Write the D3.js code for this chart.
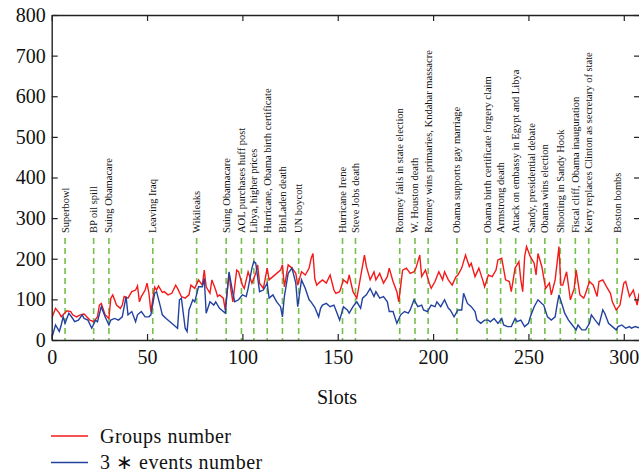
<!DOCTYPE html>
<html>
<head>
<meta charset="utf-8">
<script src="https://cdn.jsdelivr.net/npm/d3@7"></script>
<style>
body{margin:0;background:#fff;}
text{font-family:"Liberation Serif","Times New Roman",serif;fill:#111;}
</style>
</head>
<body>
<div class="chart"></div>
<script>
// data
const redSlots = [0,2,4,5,8,10,11,13,15,17,18,20,22,24,25,26,28,30,31,32,34,36,37,38,40,42,44,45,46,47,49,50,51,52,54,55,56,58,59,61,63,65,66,68,70,72,73,75,77,79,80,81,83,84,86,87,88,90,91,93,94,95,97,98,100,101,103,105,107,108,109,111,113,114,116,118,120,121,122,124,126,128,129,131,133,135,136,137,138,139,140,142,144,146,148,149,151,153,155,156,158,160,162,164,165,167,169,170,172,174,176,177,179,181,182,184,186,188,190,191,193,194,196,198,199,201,203,205,206,208,210,212,213,215,217,219,220,222,224,226,227,229,231,233,234,236,238,240,241,243,245,246,247,248,249,251,253,254,255,257,259,261,262,264,266,267,268,270,272,274,275,277,279,280,282,284,286,287,289,291,293,294,296,298,300,301,303,305,307,308];
const redValues = [53,78,66,57,72,70,62,57,62,64,59,49,45,57,86,90,62,53,103,111,86,78,86,107,103,119,123,133,94,107,123,140,115,70,130,123,133,117,119,111,115,135,127,107,103,111,135,127,148,135,172,131,115,148,123,107,111,103,74,164,123,94,172,168,135,127,168,140,164,185,140,127,177,148,156,164,172,185,131,185,177,164,135,168,160,177,200,213,150,135,140,148,140,160,123,115,119,148,140,160,119,103,156,209,181,148,168,148,164,140,156,177,144,119,94,172,177,164,168,177,209,156,172,140,127,144,168,148,168,148,135,156,160,177,209,181,189,156,177,148,131,160,156,172,197,201,148,144,119,177,193,148,119,205,230,205,189,160,213,181,127,140,111,148,230,135,135,168,99,127,172,111,103,115,144,135,107,144,148,131,115,94,74,86,140,144,107,123,86,115];

const blueSlots = [0,2,4,5,6,7,9,11,12,14,16,17,19,21,23,24,26,28,30,31,33,35,37,39,40,42,44,45,47,49,51,52,54,55,57,58,60,62,64,66,67,68,70,71,72,74,75,77,79,80,81,83,85,86,88,90,91,93,95,96,98,100,102,103,105,106,107,109,111,113,114,116,118,120,121,122,124,126,128,129,131,133,135,136,138,140,141,142,144,146,148,149,151,153,155,156,158,160,162,163,165,167,169,170,172,174,176,177,179,181,183,185,187,188,190,192,194,195,197,199,201,202,204,206,208,209,211,213,215,216,218,220,222,223,225,227,229,230,232,234,236,237,239,241,243,244,246,248,250,251,253,255,257,258,260,262,264,265,266,268,269,271,273,275,276,278,280,282,283,285,287,289,290,292,294,296,297,299,301,303,304,306,308];
const blueValues = [4,37,21,37,57,41,66,53,45,49,62,53,49,29,49,45,82,57,37,49,53,49,57,107,62,70,45,62,70,57,57,62,115,119,82,62,53,45,37,29,99,103,29,21,74,99,94,131,131,152,66,94,86,94,78,70,66,168,115,94,99,111,107,127,177,193,189,119,123,140,103,111,94,82,57,107,164,177,140,82,148,127,99,94,80,57,78,86,90,82,86,74,49,82,74,66,82,94,78,103,111,127,107,119,103,107,94,70,70,41,62,70,66,74,99,82,86,74,70,86,82,94,82,99,78,74,57,74,74,115,90,82,70,49,41,49,49,45,53,41,53,37,33,33,53,45,49,33,41,57,82,99,90,86,57,49,57,86,111,82,66,49,37,25,37,25,25,41,62,49,37,74,66,41,33,25,33,37,29,33,29,33,30];

const eventSlots = [7,22,30,53,76,91.5,99.5,106,113,121,129.5,152.5,159.3,182.5,190.5,197.4,212.5,228.3,235.4,243.3,251.4,258.6,266.7,274.6,281.6,296.5];
const eventLabels = ['Superbowl','BP oil spill','Suing Obamacare','Leaving Iraq','Wikileaks','Suing Obamacare','AOL purchases huff post','Libya, higher prices','Hurricane, Obama birth certificate','BinLaden death','UN boycott','Hurricane Irene','Steve Jobs death','Romney fails in state election','W. Houston death','Romney wins primaries, Kndahar massacre','Obama supports gay marriage','Obama birth certificate forgery claim','Armstrong death','Attack on embassy in Egypt and Libya','Sandy, presidential debate','Obama wins election','Shooting in Sandy Hook','Fiscal cliff, Obama inauguration','Kerry replaces Clinton as secretary of state','Boston bombs'];

const xTicks = [0,50,100,150,200,250,300];
const yTicks = [0,100,200,300,400,500,600,700,800];
const seriesNames = ['Groups number','3 \u2217 events number'];

const W = 639, H = 475;
const plotLeft = 51.7, plotRight = 640, plotTop = 15, plotBottom = 340;

const svg = d3.select('.chart').append('svg').attr('width',W).attr('height',H);

const xScale = d3.scaleLinear([0,308.5],[plotLeft,plotRight]);
const yScale = d3.scaleLinear([0,800],[plotBottom,plotTop]);

svg.append('clipPath').attr('id','plot').append('rect')
    .attr('x',plotLeft).attr('y',plotTop).attr('width',plotRight-plotLeft).attr('height',plotBottom-plotTop);

//event markers
const events = eventSlots.map((s,i)=>({slot:s,label:eventLabels[i]}));
const ev = svg.append('g').attr('class','events');
ev.selectAll('line').data(events).join('line')
    .attr('x1',d=>xScale(d.slot)).attr('x2',d=>xScale(d.slot))
    .attr('y1',238).attr('y2',plotBottom)
    .attr('stroke','#74c04c').attr('stroke-width',1.6)
    .attr('stroke-dasharray','6,4');
// rotated -90: text starts at the bottom and runs upward
ev.selectAll('text').data(events).join('text')
    .attr('transform',d=>`translate(${xScale(d.slot)},233) rotate(-90)`)
    .attr('text-anchor','start').attr('dy','0.33em')
    .style('font-size','10.5px')
    .text(d=>d.label);

//lines
const line = d3.line().x(d=>xScale(d[0])).y(d=>yScale(d[1]));
const lines = svg.append('g').attr('clip-path','url(#plot)');
lines.append('path').datum(redSlots.map((s,i)=>[s,redValues[i]]))
    .attr('d',line).attr('fill','none').attr('stroke','#f41a1a').attr('stroke-width',1.4);
lines.append('path').datum(blueSlots.map((s,i)=>[s,blueValues[i]]))
    .attr('d',line).attr('fill','none').attr('stroke','#2342a0').attr('stroke-width',1.4);

//axes
svg.append('g').attr('transform',`translate(0,${plotBottom})`)
    .call(d3.axisBottom(xScale).tickValues(xTicks).tickSizeInner(-6).tickSizeOuter(0).tickPadding(10));
svg.append('g').attr('transform',`translate(0,${plotTop})`)
    .call(d3.axisTop(xScale).tickValues(xTicks).tickSizeInner(-6).tickSizeOuter(0).tickFormat(''));
svg.append('g').attr('transform',`translate(${plotLeft},0)`)
    .call(d3.axisLeft(yScale).tickValues(yTicks).tickSizeInner(-6).tickSizeOuter(0).tickPadding(6));
svg.append('g').attr('transform',`translate(${plotRight},0)`)
    .call(d3.axisRight(yScale).tickValues(yTicks).tickSizeInner(-6).tickSizeOuter(0).tickFormat(''));

svg.selectAll('.domain').attr('stroke','#222').attr('stroke-width',1.4);
svg.selectAll('.tick line').attr('stroke','#222').attr('stroke-width',1.2);
svg.selectAll('.tick text').style('font-family','"Liberation Serif",serif').style('font-size','20px').attr('fill','#111');

svg.append('text').attr('x',337).attr('y',404).attr('text-anchor','middle')
    .style('font-size','20px').text('Slots');

//legend
const legend = svg.append('g');
const colors = ['#f41a1a','#2342a0'];
seriesNames.forEach((name,i)=>{
    const y = 436 + i*26.5;
    legend.append('line').attr('x1',51).attr('x2',88).attr('y1',y).attr('y2',y)
        .attr('stroke',colors[i]).attr('stroke-width',1.3);
    legend.append('text').attr('x',100).attr('y',y+6.5)
        .style('font-size','20px').style('letter-spacing','0.5px').text(name);
});
</script>
</body>
</html>
